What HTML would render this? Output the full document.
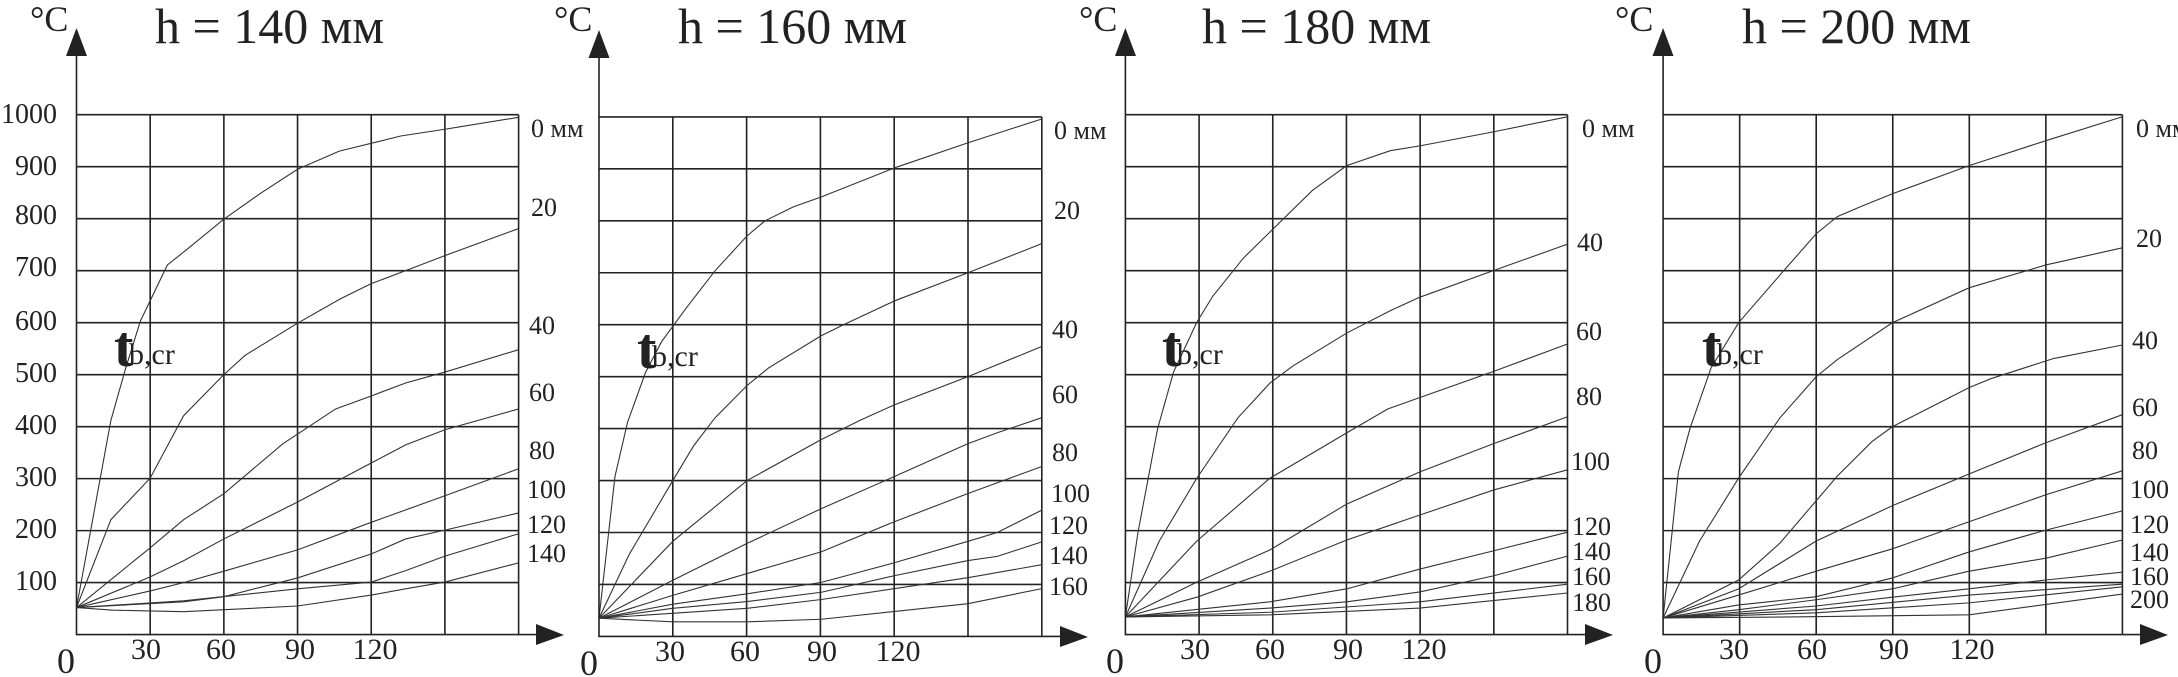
<!DOCTYPE html>
<html><head><meta charset="utf-8"><style>
html,body{margin:0;padding:0;background:#fff;}
svg{display:block;}
text{font-family:"Liberation Serif",serif;fill:#222;}
.g{stroke:#222;stroke-width:1.6;fill:none;vector-effect:non-scaling-stroke;}
.c{stroke:#333;stroke-width:1.1;fill:none;vector-effect:non-scaling-stroke;}
.a{stroke:#222;stroke-width:1.6;fill:none;}
.yl{font-size:28px;text-anchor:end;}
.xl{font-size:30px;text-anchor:middle;}
.cl{font-size:26px;}
.ti{font-size:50px;}
.dc{font-size:36px;}
.t{font-size:58px;font-weight:bold;}
.s{font-size:30px;}
</style></head><body>
<svg width="2178" height="677" viewBox="0 0 2178 677" xmlns="http://www.w3.org/2000/svg">

<!-- ========== CHART 1 ========== -->
<g transform="translate(76.5,634.6) scale(2.4561,-0.5199)">
<path class="g" d="M0,100H180M0,200H180M0,300H180M0,400H180M0,500H180M0,600H180M0,700H180M0,800H180M0,900H180M0,1000H180M30,0V1000M60,0V1000M90,0V1000M120,0V1000M150,0V1000M180,0V1000"/>
<polyline class="c" points="0,52 14,412 20,512 26,603 37,711 45,741 60,799 75,849 90,895 107,930 120,945 132,959 150,972 180,995"/>
<polyline class="c" points="0,52 14,221 30,301 43.6,421 60,500 68.6,537 90,599 107.5,646 120,675 134,700 150,729 180,781"/>
<polyline class="c" points="0,52 30,167 43.6,221 60,271 84,367 105.5,434 120,459 134,484 150,505 180,548"/>
<polyline class="c" points="0,52 30,111 43.6,142 60,184 90,255 120,330 134,365 150,394 180,434"/>
<polyline class="c" points="0,52 30,84 43.6,100 60,122 90,163 120,216 150,267 180,319"/>
<polyline class="c" points="0,52 43.6,63 60,73 90,109 120,155 134,184 150,201 180,234"/>
<polyline class="c" points="0,52 43.6,65 90,88 120,101 134,123 150,151 180,194"/>
<polyline class="c" points="0,52 15,47 43.6,44 90,55 120,76 134,88 150,101 180,138"/>
</g>
<path class="a" d="M76.5,50V634.6H538"/>
<polygon points="76.5,28 66,56 87,56" fill="#222"/>
<polygon points="536,624 564,635 536,645" fill="#222"/>
<text class="dc" x="30" y="31">°C</text>
<text class="ti" x="155" y="43">h = 140 мм</text>
<text class="t" x="114" y="366">t</text><text class="s" x="129" y="364">b,cr</text>
<text class="yl" x="57" y="123">1000</text>
<text class="yl" x="57" y="175">900</text>
<text class="yl" x="57" y="224">800</text>
<text class="yl" x="57" y="276">700</text>
<text class="yl" x="57" y="330">600</text>
<text class="yl" x="57" y="382">500</text>
<text class="yl" x="57" y="434">400</text>
<text class="yl" x="57" y="486">300</text>
<text class="yl" x="57" y="538">200</text>
<text class="yl" x="57" y="590">100</text>
<text class="dc" x="57" y="673">0</text>
<text class="xl" x="146" y="659">30</text>
<text class="xl" x="221" y="659">60</text>
<text class="xl" x="300" y="659">90</text>
<text class="xl" x="375" y="659">120</text>
<text class="cl" x="531" y="137">0 мм</text>
<text class="cl" x="531" y="216">20</text>
<text class="cl" x="529" y="334">40</text>
<text class="cl" x="529" y="401">60</text>
<text class="cl" x="529" y="459">80</text>
<text class="cl" x="527" y="498">100</text>
<text class="cl" x="527" y="533">120</text>
<text class="cl" x="527" y="562">140</text>

<!-- ========== CHART 2 ========== -->
<g transform="translate(599,636.4) scale(2.46,-0.5195)">
<path class="g" d="M0,100H180M0,200H180M0,300H180M0,400H180M0,500H180M0,600H180M0,700H180M0,800H180M0,900H180M0,1000H180M30,0V1000M60,0V1000M90,0V1000M120,0V1000M150,0V1000M180,0V1000"/>
<polyline class="c" points="0,35 6.5,308 11.6,412 18.9,508 25.4,567 35.6,633 47.2,704 60.2,771 67.5,800 79.1,827 90.4,846 120.2,902 149.9,950 180,996"/>
<polyline class="c" points="0,35 12.3,158 30,300 38.5,367 47.2,421 60.2,483 69,517 90.4,579 99.4,600 120.2,646 150,700 180,756"/>
<polyline class="c" points="0,35 30,183 60.2,300 90.4,379 106.6,417 120.2,446 150,500 180,558"/>
<polyline class="c" points="0,35 30,108 60.2,179 90.4,246 120.2,308 150,371 161.9,392 180,421"/>
<polyline class="c" points="0,35 30,79 60.2,121 90.4,163 120.2,221 150,275 180,327"/>
<polyline class="c" points="0,35 30,62 60.2,82 90.4,104 120.2,142 150,183 161.9,200 180,243"/>
<polyline class="c" points="0,35 30,54 60.2,67 90.4,85 120.2,117 150,146 161.9,154 180,182"/>
<polyline class="c" points="0,35 60.2,54 90.4,71 120.2,92 150,113 180,138"/>
<polyline class="c" points="0,35 30,28 60.2,28 90.4,33 120.2,48 150,63 180,92"/>
</g>
<path class="a" d="M599,50V636.4H1062"/>
<polygon points="599,30 588.5,58 609.5,58" fill="#222"/>
<polygon points="1060,626 1088,637 1060,647" fill="#222"/>
<text class="dc" x="554" y="31">°C</text>
<text class="ti" x="678" y="43">h = 160 мм</text>
<text class="t" x="637" y="368">t</text><text class="s" x="652" y="366">b,cr</text>
<text class="dc" x="580" y="675">0</text>
<text class="xl" x="670" y="661">30</text>
<text class="xl" x="745" y="661">60</text>
<text class="xl" x="822" y="661">90</text>
<text class="xl" x="898" y="661">120</text>
<text class="cl" x="1054" y="139">0 мм</text>
<text class="cl" x="1054" y="219">20</text>
<text class="cl" x="1052" y="338">40</text>
<text class="cl" x="1052" y="403">60</text>
<text class="cl" x="1052" y="461">80</text>
<text class="cl" x="1051" y="502">100</text>
<text class="cl" x="1049" y="534">120</text>
<text class="cl" x="1049" y="564">140</text>
<text class="cl" x="1049" y="595">160</text>

<!-- ========== CHART 3 ========== -->
<g transform="translate(1125.4,634.6) scale(2.4561,-0.5199)">
<path class="g" d="M0,100H180M0,200H180M0,300H180M0,400H180M0,500H180M0,600H180M0,700H180M0,800H180M0,900H180M0,1000H180M30,0V1000M60,0V1000M90,0V1000M120,0V1000M150,0V1000M180,0V1000"/>
<polyline class="c" points="0,34 5.1,196 13.1,396 19.6,505 29.1,601 35.6,651 48,724 61.8,788 76.3,855 90.1,902 108,931 119.9,940 149.8,967 180,996"/>
<polyline class="c" points="0,34 13.8,180 29.1,301 45.8,417 58.9,484 68.3,517 90.1,580 108.3,624 119.9,649 149.8,700 180,751"/>
<polyline class="c" points="0,34 29.1,180 58.9,301 90.1,388 106.8,434 119.9,456 149.8,506 180,559"/>
<polyline class="c" points="0,34 29.1,101 58.9,163 90.1,251 119.9,313 149.8,367 180,419"/>
<polyline class="c" points="0,34 29.1,72 58.9,122 90.1,182 119.9,230 149.8,278 180,317"/>
<polyline class="c" points="0,34 58.9,63 90.1,88 119.9,126 149.8,161 180,197"/>
<polyline class="c" points="0,34 58.9,51 90.1,63 119.9,82 149.8,113 180,151"/>
<polyline class="c" points="0,34 58.9,43 119.9,63 180,97"/>
<polyline class="c" points="0,34 58.9,38 119.9,51 180,80"/>
</g>
<path class="a" d="M1125.4,50V634.6H1588"/>
<polygon points="1125.4,28 1115,56 1136,56" fill="#222"/>
<polygon points="1585,624 1613,635 1585,645" fill="#222"/>
<text class="dc" x="1079" y="31">°C</text>
<text class="ti" x="1202" y="43">h = 180 мм</text>
<text class="t" x="1162" y="366">t</text><text class="s" x="1177" y="364">b,cr</text>
<text class="dc" x="1106" y="673">0</text>
<text class="xl" x="1195" y="659">30</text>
<text class="xl" x="1270" y="659">60</text>
<text class="xl" x="1348" y="659">90</text>
<text class="xl" x="1424" y="659">120</text>
<text class="cl" x="1582" y="137">0 мм</text>
<text class="cl" x="1577" y="251">40</text>
<text class="cl" x="1576" y="340">60</text>
<text class="cl" x="1576" y="405">80</text>
<text class="cl" x="1571" y="470">100</text>
<text class="cl" x="1572" y="535">120</text>
<text class="cl" x="1572" y="560">140</text>
<text class="cl" x="1572" y="585">160</text>
<text class="cl" x="1572" y="611">180</text>

<!-- ========== CHART 4 ========== -->
<g transform="translate(1663.1,634.6) scale(2.5517,-0.5199)">
<path class="g" d="M0,100H180M0,200H180M0,300H180M0,400H180M0,500H180M0,600H180M0,700H180M0,800H180M0,900H180M0,1000H180M30,0V1000M60,0V1000M90,0V1000M120,0V1000M150,0V1000M180,0V1000"/>
<polyline class="c" points="0,32 6,313 10.5,396 18.8,513 29.6,600 47.3,700 60,771 68.3,804 77.3,823 89.9,848 119.9,902 150,950 180,996"/>
<polyline class="c" points="0,32 14.3,180 29.6,301 45.8,417 60,496 68.3,529 89.9,600 119.9,667 150,711 180,744"/>
<polyline class="c" points="0,32 29.6,105 45.8,176 68.3,305 81.8,371 89.9,400 119.9,475 128.3,492 153,531 180,557"/>
<polyline class="c" points="0,32 29.6,88 60,180 89.9,248 119.9,309 150,369 180,423"/>
<polyline class="c" points="0,32 29.6,76 60,122 89.9,165 119.9,217 150,269 180,315"/>
<polyline class="c" points="0,32 29.6,57 60,73 89.9,109 119.9,159 150,201 180,238"/>
<polyline class="c" points="0,32 29.6,48 60,67 89.9,88 119.9,122 150,147 180,182"/>
<polyline class="c" points="0,32 60,55 89.9,72 119.9,88 150,105 180,120"/>
<polyline class="c" points="0,32 60,48 119.9,76 180,97"/>
<polyline class="c" points="0,32 60,42 119.9,61 180,92"/>
<polyline class="c" points="0,32 50,34 119.9,38 180,78"/>
</g>
<path class="a" d="M1663.1,50V634.6H2143"/>
<polygon points="1663.1,28 1652.5,56 1673.5,56" fill="#222"/>
<polygon points="2140,624 2168,635 2140,645" fill="#222"/>
<text class="dc" x="1615" y="31">°C</text>
<text class="ti" x="1742" y="43">h = 200 мм</text>
<text class="t" x="1702" y="366">t</text><text class="s" x="1717" y="364">b,cr</text>
<text class="dc" x="1644" y="673">0</text>
<text class="xl" x="1734" y="659">30</text>
<text class="xl" x="1812" y="659">60</text>
<text class="xl" x="1894" y="659">90</text>
<text class="xl" x="1972" y="659">120</text>
<text class="cl" x="2136" y="137">0 мм</text>
<text class="cl" x="2136" y="247">20</text>
<text class="cl" x="2132" y="349">40</text>
<text class="cl" x="2132" y="416">60</text>
<text class="cl" x="2132" y="459">80</text>
<text class="cl" x="2130" y="498">100</text>
<text class="cl" x="2130" y="533">120</text>
<text class="cl" x="2130" y="561">140</text>
<text class="cl" x="2130" y="585">160</text>
<text class="cl" x="2130" y="608">200</text>
</svg>
</body></html>
